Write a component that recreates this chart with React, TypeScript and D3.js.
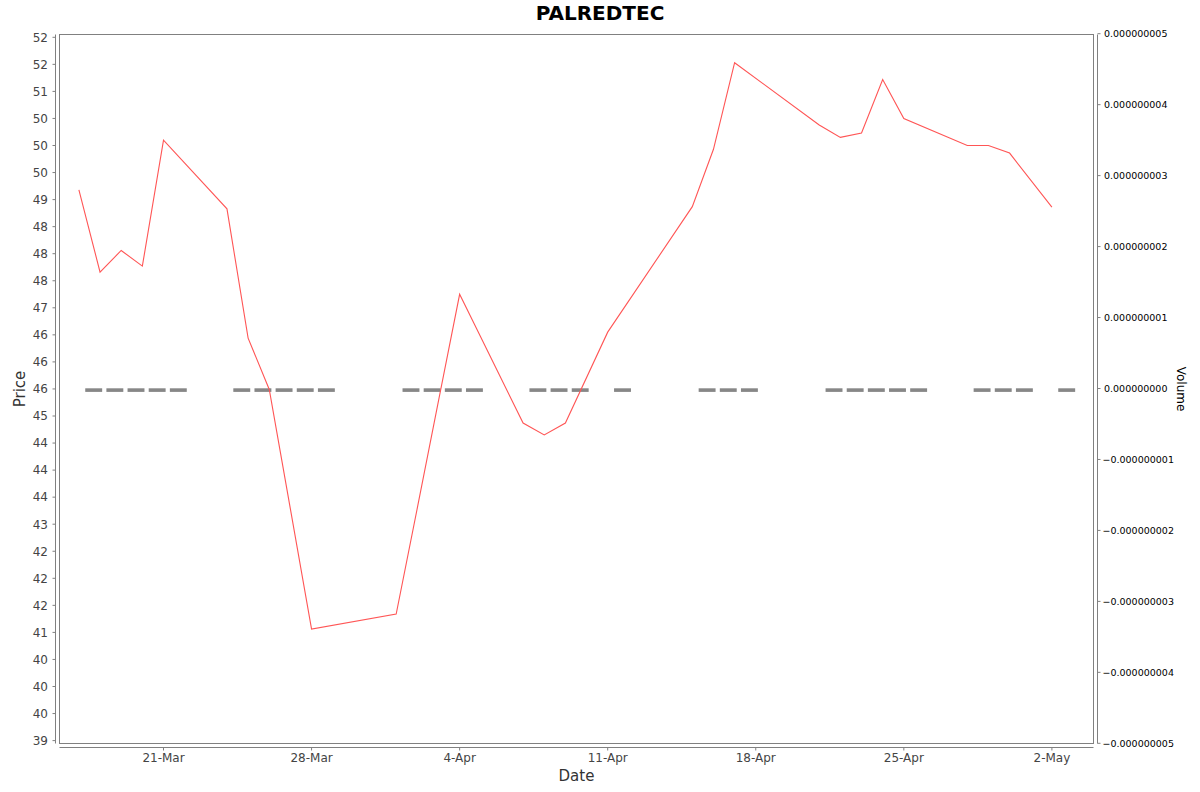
import React from "react";
import * as d3 from "d3";

const title = "PALREDTEC";
const dates = [
  "2025-03-17", "2025-03-18", "2025-03-19", "2025-03-20", "2025-03-21",
  "2025-03-24", "2025-03-25", "2025-03-26", "2025-03-27", "2025-03-28",
  "2025-04-01", "2025-04-02", "2025-04-03", "2025-04-04",
  "2025-04-07", "2025-04-08", "2025-04-09", "2025-04-11",
  "2025-04-15", "2025-04-16", "2025-04-17",
  "2025-04-21", "2025-04-22", "2025-04-23", "2025-04-24", "2025-04-25",
  "2025-04-28", "2025-04-29", "2025-04-30", "2025-05-02",
];
const prices = [
  49.18, 47.66, 48.06, 47.77, 50.1,
  48.83, 46.44, 45.49, 43.28, 41.06,
  41.34, 43.3, 45.28, 47.25,
  44.87, 44.65, 44.87, 46.55,
  48.87, 49.93, 51.53,
  50.38, 50.15, 50.23, 51.22, 50.5,
  50.0, 50.0, 49.86, 48.86,
];
const volumes = [
  0, 0, 0, 0, 0, 0, 0, 0, 0, 0,
  0, 0, 0, 0, 0, 0, 0, 0, 0, 0,
  0, 0, 0, 0, 0, 0, 0, 0, 0, 0,
];
const dateTicks = ["2025-03-21", "2025-03-28", "2025-04-04", "2025-04-11", "2025-04-18", "2025-04-25", "2025-05-02"];
const priceTickValues = d3.range(39, 52.001, 0.5);
const priceTickLabels = [
  "39", "40", "40", "40", "41", "42", "42", "42", "43", "44", "44", "44", "45",
  "46", "46", "46", "47", "48", "48", "48", "49", "50", "50", "50", "51", "52", "52",
];
const volumeTickValues = d3.range(-5, 5.001, 1).map((v) => v * 1e-9);

const W = 1200;
const H = 792;
const L = 59.5;
const R = 1093.5;
const T = 34.5;
const B = 743.5;
const DAY = 86400000;
const FONT = "DejaVu Sans, Verdana, sans-serif";

const parse = d3.utcParse("%Y-%m-%d");

export default function App() {
  const dts = dates.map((d) => parse(d) as Date);
  const first = parse(dateTicks[0]) as Date;
  const last = parse(dateTicks[dateTicks.length - 1]) as Date;
  const x = d3
    .scaleUtc()
    .domain([new Date(+first - 4.917 * DAY), new Date(+last + 1.967 * DAY)])
    .range([L, R]);
  const y = d3.scaleLinear().domain([39, 52]).range([740.6, 37.3]);
  const yv = d3.scaleLinear().domain([-5e-9, 5e-9]).range([743.3, 33.7]);
  const fmtDate = d3.utcFormat("%-d-%b");
  const fmtVol = d3.format(".9f");

  const line = d3
    .line<number>()
    .x((_, i) => x(dts[i]))
    .y((p) => y(p));

  const axisColor = "#808080";
  const tickText = "#444444";

  return (
    <svg
      width={W}
      height={H}
      style={{ position: "absolute", left: 0, top: 0, background: "#fff" }}
      fontFamily={FONT}
    >
      <rect x={0} y={0} width={W} height={H} fill="#ffffff" />
      <text x={600} y={20} textAnchor="middle" fontWeight="bold" fontSize={20} fill="#000">
        {title}
      </text>

      {/* plot frame */}
      <rect x={L} y={T} width={R - L} height={B - T} fill="#ffffff" stroke={axisColor} strokeWidth={1} />

      {/* volume bars */}
      {volumes.map((v, i) => {
        const x0 = x(new Date(+dts[i] + 0.3 * DAY));
        const x1 = x(new Date(+dts[i] + 1.1 * DAY));
        const y0 = yv(0);
        const y1 = yv(v);
        return (
          <rect
            key={"v" + i}
            x={x0}
            y={Math.min(y0, y1) - 0.2}
            width={x1 - x0}
            height={Math.abs(y1 - y0) + 3.6}
            fill="#878787"
          />
        );
      })}

      {/* price line */}
      <path d={line(prices) || ""} fill="none" stroke="#ff5555" strokeWidth={1.1} />

      {/* left axis */}
      <line x1={55.5} x2={55.5} y1={T} y2={B} stroke={axisColor} />
      {priceTickValues.map((v, i) => (
        <g key={"p" + i}>
          <line x1={52.5} x2={55.5} y1={y(v)} y2={y(v)} stroke={axisColor} />
          <text x={48} y={y(v) + 4.3} textAnchor="end" fontSize={12} fill={tickText}>
            {priceTickLabels[i]}
          </text>
        </g>
      ))}
      <text
        transform={`translate(25,${(T + B) / 2}) rotate(-90)`}
        textAnchor="middle"
        fontSize={15}
        fill="#333"
      >
        Price
      </text>

      {/* bottom axis */}
      <line x1={L} x2={R} y1={747.5} y2={747.5} stroke={axisColor} />
      {dateTicks.map((d) => {
        const px = x(parse(d) as Date);
        return (
          <g key={d}>
            <line x1={px} x2={px} y1={747.5} y2={750.5} stroke={axisColor} />
            <text x={px} y={762} textAnchor="middle" fontSize={12} fill={tickText}>
              {fmtDate(parse(d) as Date)}
            </text>
          </g>
        );
      })}
      <text x={(L + R) / 2} y={781} textAnchor="middle" fontSize={15} fill="#333">
        Date
      </text>

      {/* right axis */}
      <line x1={1097.5} x2={1097.5} y1={T} y2={B} stroke={axisColor} />
      {volumeTickValues.map((v, i) => (
        <g key={"r" + i}>
          <line x1={1097.5} x2={1100.5} y1={yv(v)} y2={yv(v)} stroke={axisColor} />
          <text x={v < -1e-12 ? 1102.5 : 1104} y={yv(v) + 3.5} fontSize={9.5} fill="#000">
            {fmtVol(Math.abs(v) < 1e-15 ? 0 : v)}
          </text>
        </g>
      ))}
      <text
        transform={`translate(1177,${(T + B) / 2}) rotate(90)`}
        textAnchor="middle"
        fontSize={12}
        fill="#000"
      >
        Volume
      </text>
    </svg>
  );
}
